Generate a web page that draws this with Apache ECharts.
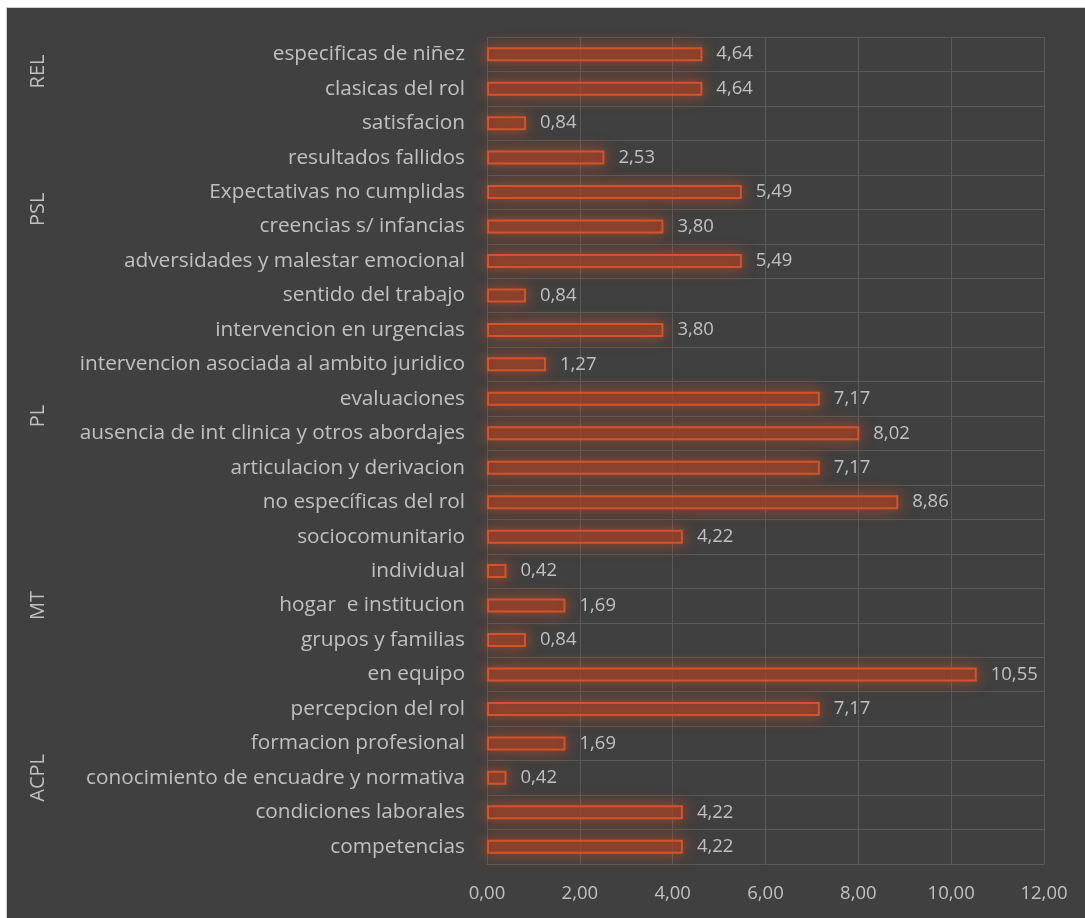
<!DOCTYPE html>
<html>
<head>
<meta charset="utf-8">
<script src="https://cdn.jsdelivr.net/npm/echarts@6/dist/echarts.min.js"></script>
<style>
  html, body { margin: 0; padding: 0; background: #ffffff; }
  #chart {
    position: absolute; left: 6px; top: 7px; width: 1079px; height: 911px;
    border-left: 1px solid #d0d0d0; border-top: 1px solid #d0d0d0;
  }
</style>
</head>
<body>
<div id="chart"></div>
<script>
// Categories, top to bottom
const categories = [
  'especificas de niñez', 'clasicas del rol',
  'satisfacion', 'resultados fallidos', 'Expectativas no cumplidas',
  'creencias s/ infancias', 'adversidades y malestar emocional', 'sentido del trabajo',
  'intervencion en urgencias', 'intervencion asociada al ambito juridico', 'evaluaciones',
  'ausencia de int clinica y otros abordajes', 'articulacion y derivacion', 'no específicas del rol',
  'sociocomunitario', 'individual', 'hogar  e institucion', 'grupos y familias', 'en equipo',
  'percepcion del rol', 'formacion profesional', 'conocimiento de encuadre y normativa',
  'condiciones laborales', 'competencias'
];
const values = [
  4.64, 4.64,
  0.84, 2.53, 5.49, 3.80, 5.49, 0.84,
  3.80, 1.27, 7.17, 8.02, 7.17, 8.86,
  4.22, 0.42, 1.69, 0.84, 10.55,
  7.17, 1.69, 0.42, 4.22, 4.22
];
// Outer category level: group names and how many categories each spans
const groupNames = ['REL', 'PSL', 'PL', 'MT', 'ACPL'];
const groupSizes = [2, 6, 6, 5, 5];
const xTicks = { min: 0, max: 12, interval: 2 };

const FONT = 'Open Sans';
const TEXT = '#c0c0c0';
const chart = echarts.init(document.getElementById('chart'));
const fmt = v => Number(v).toFixed(2).replace('.', ',');

chart.setOption({
  backgroundColor: '#404040',
  animation: false,
  grid: { left: 480, right: 42, top: 29, bottom: 55 },
  xAxis: {
    type: 'value', min: xTicks.min, max: xTicks.max, interval: xTicks.interval,
    axisLine: { show: false }, axisTick: { show: false },
    splitLine: { lineStyle: { color: '#5a5a5a', width: 1 } },
    axisLabel: { color: TEXT, fontFamily: FONT, fontSize: 18.5, margin: 20, formatter: fmt }
  },
  yAxis: {
    type: 'category', data: categories, inverse: true,
    axisLine: { show: false }, axisTick: { show: false },
    splitLine: { show: true, lineStyle: { color: '#5a5a5a', width: 1 } },
    axisLabel: { color: TEXT, fontFamily: FONT, fontSize: 20.8, margin: 22 }
  },
  series: [{
    type: 'bar', data: values, barWidth: 14,
    itemStyle: {
      color: 'rgba(140,60,40,0.6)',
      borderColor: '#d4532a', borderWidth: 2,
      shadowColor: 'rgba(235,85,35,0.8)', shadowBlur: 15
    },
    label: {
      show: true, position: 'right', distance: 14,
      color: TEXT, fontFamily: FONT, fontSize: 18.5, formatter: p => fmt(p.value)
    }
  }]
});

// Place the outer group labels at the middle of each group's category span
const graphics = [];
let start = 0;
groupNames.forEach((name, g) => {
  const first = chart.convertToPixel({ yAxisIndex: 0 }, categories[start]);
  const last = chart.convertToPixel({ yAxisIndex: 0 }, categories[start + groupSizes[g] - 1]);
  graphics.push({
    type: 'text', x: 31, y: (first + last) / 2, rotation: Math.PI / 2,
    style: {
      text: name, fill: TEXT, font: '20px ' + FONT,
      align: 'center', verticalAlign: 'middle'
    }
  });
  start += groupSizes[g];
});
chart.setOption({ graphic: graphics });
</script>
</body>
</html>
